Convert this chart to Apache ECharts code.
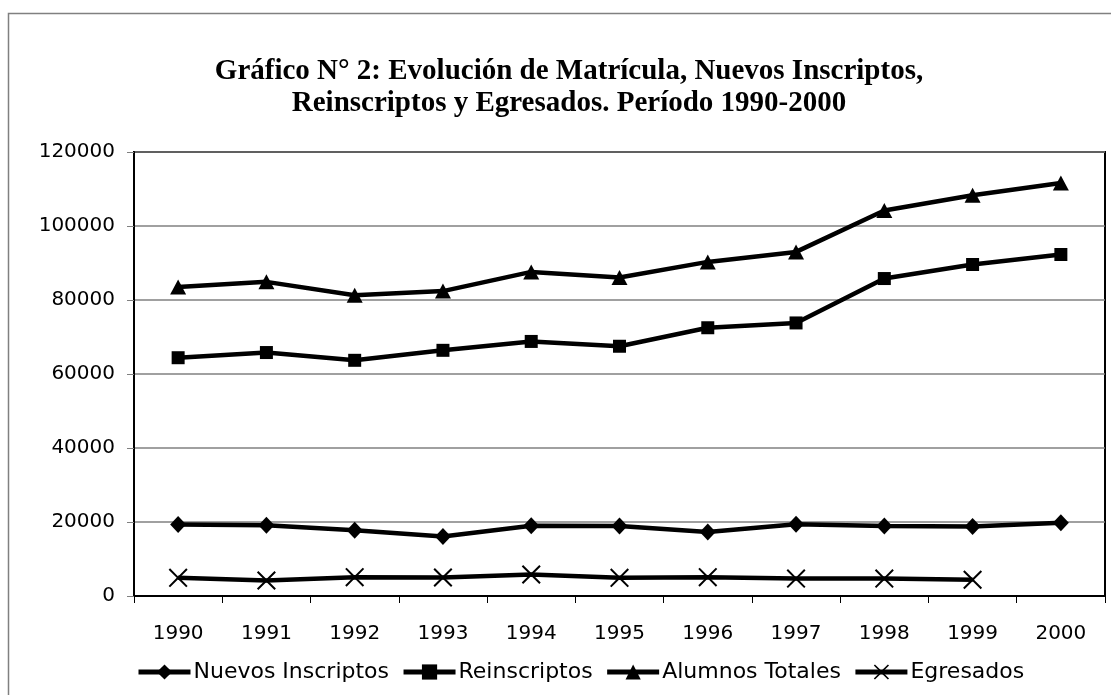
<!DOCTYPE html>
<html>
<head>
<meta charset="utf-8">
<script src="https://cdn.jsdelivr.net/npm/echarts@6/dist/echarts.min.js"></script>
<style>
html,body{margin:0;padding:0;background:#fff;}
#chart{width:1111px;height:695px;}
</style>
</head>
<body>
<div id="chart"></div>
<script>
const years = ['1990','1991','1992','1993','1994','1995','1996','1997','1998','1999','2000'];
const nuevosInscriptos = [19300, 19100, 17800, 16100, 19000, 18900, 17300, 19400, 18900, 18800, 19800];
const reinscriptos = [64400, 65800, 63700, 66400, 68800, 67500, 72500, 73800, 85800, 89600, 92300];
const alumnosTotales = [83500, 84900, 81300, 82400, 87600, 86100, 90300, 93000, 104200, 108300, 111600];
const egresados = [4900, 4200, 5100, 5000, 5800, 4900, 5100, 4700, 4700, 4400, null];
const yTicks = [0, 20000, 40000, 60000, 80000, 100000, 120000];

const crossPath = 'path://M0,1.5 L1.5,0 L10,8.5 L18.5,0 L20,1.5 L11.5,10 L20,18.5 L18.5,20 L10,11.5 L1.5,20 L0,18.5 L8.5,10 Z';
const sansFont = '"DejaVu Sans", "Liberation Sans", Arial, sans-serif';

function mk(name, data, symbol, size) {
  return {
    name: name, type: 'line', data: data,
    symbol: symbol, symbolSize: size,
    lineStyle: {color: '#000', width: 4.5},
    itemStyle: {color: '#000'},
    connectNulls: false,
    animation: false
  };
}

const chart = echarts.init(document.getElementById('chart'));
chart.setOption({
  backgroundColor: '#fff',
  animation: false,
  title: {
    text: 'Gráfico N° 2: Evolución de Matrícula, Nuevos Inscriptos,\nReinscriptos y Egresados. Período 1990-2000',
    left: 564, top: 51, textAlign: 'center',
    textStyle: {fontFamily: '"Liberation Serif", "Times New Roman", serif', fontWeight: 'bold', fontSize: 29, lineHeight: 32, color: '#000'}
  },
  graphic: [{
    type: 'rect', shape: {x: 8.5, y: 13.5, width: 1200, height: 1000},
    style: {fill: 'none', stroke: '#808080', lineWidth: 1.5}, silent: true, z: -1
  }],
  legend: {
    top: 656, left: 131,
    itemWidth: 52, itemHeight: 19, itemGap: 12,
    lineStyle: {width: 5},
    textStyle: {fontFamily: sansFont, fontSize: 22, color: '#000', padding: [0, 0, 0, -2]},
    data: ['Nuevos Inscriptos', 'Reinscriptos', 'Alumnos Totales', 'Egresados']
  },
  grid: {
    left: 134, right: 6, top: 152, bottom: 99,
    show: true, borderColor: '#000', borderWidth: 2, containLabel: false
  },
  xAxis: {
    type: 'category', data: years, boundaryGap: true,
    axisLine: {lineStyle: {color: '#000', width: 2}},
    axisTick: {show: true, alignWithLabel: false, length: 7, lineStyle: {color: '#000', width: 1}},
    axisLabel: {fontFamily: sansFont, fontSize: 20, color: '#000', margin: 28}
  },
  yAxis: {
    type: 'value', min: yTicks[0], max: yTicks[yTicks.length - 1], interval: 20000,
    axisLine: {show: true, lineStyle: {color: '#000', width: 2}},
    axisTick: {show: true, length: 7, lineStyle: {color: '#808080', width: 1}},
    axisLabel: {fontFamily: sansFont, fontSize: 20, color: '#000', margin: 19, formatter: function (v) { return String(v); }},
    splitLine: {show: true, lineStyle: {color: '#808080', width: 1.5}}
  },
  series: [
    mk('Nuevos Inscriptos', nuevosInscriptos, 'diamond', [16, 17]),
    mk('Reinscriptos', reinscriptos, 'rect', 13),
    mk('Alumnos Totales', alumnosTotales, 'triangle', [16, 15]),
    mk('Egresados', egresados, crossPath, 19)
  ]
});
</script>
</body>
</html>
